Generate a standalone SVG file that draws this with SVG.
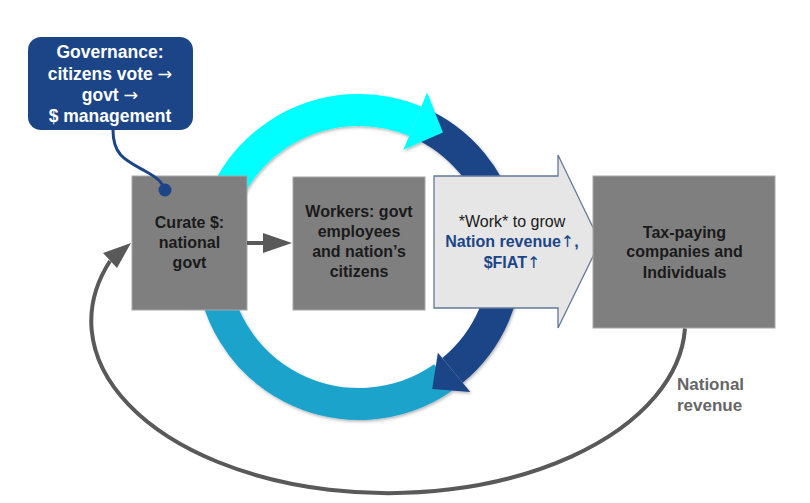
<svg xmlns="http://www.w3.org/2000/svg" width="810" height="503" viewBox="0 0 810 503">
<defs>
<style>
.box{fill:#7f7f7f;stroke:#a8a8a8;stroke-width:1}
.bt{font-family:"Liberation Sans",Arial,sans-serif;font-weight:bold;font-size:16px;fill:#1a1a1a;text-anchor:middle}
.gt{font-family:"Liberation Sans",Arial,sans-serif;font-weight:bold;font-size:17.5px;fill:#ffffff;text-anchor:middle}
.ar{font-family:"DejaVu Sans",sans-serif;font-weight:normal}
.ring{fill:none;stroke-width:32}
.conn{fill:none;stroke:#595959;stroke-width:4}
</style>
<filter id="sh" x="-10%" y="-10%" width="120%" height="120%">
<feDropShadow dx="1" dy="1.5" stdDeviation="1.5" flood-color="#000" flood-opacity="0.3"/>
</filter>
</defs>
<rect width="810" height="503" fill="#ffffff"/>

<g id="cycle" filter="url(#sh)">
<path class="ring" stroke="#1ca3cc" d="M443.3,377.4 A147,147 0 0 1 212,257"/>
<path class="ring" stroke="#1c4587" d="M416.4,121.7 A147,147 0 0 1 452.5,370.4"/>
<polygon fill="#1c4587" points="437.9,352.7 470.3,392 432.2,389.1"/>
<path class="ring" stroke="#00ffff" d="M212,257 A147,147 0 0 1 415.3,121.2"/>
<polygon fill="#00ffff" points="403.4,149.8 427.1,92.5 442.9,132.6"/>
</g>

<g id="governance">
<rect x="28" y="37" width="165" height="93" rx="13" fill="#1c4587"/>
<text class="gt" x="110" y="58">Governance:</text>
<text class="gt" x="110" y="80">citizens vote <tspan class="ar">→</tspan></text>
<text class="gt" x="110" y="101">govt <tspan class="ar">→</tspan></text>
<text class="gt" x="110" y="122">$ management</text>
</g>

<g id="curate">
<rect class="box" x="132" y="176" width="115" height="134"/>
<text class="bt" x="189.5" y="228">Curate $:</text>
<text class="bt" x="189.5" y="248">national</text>
<text class="bt" x="189.5" y="268">govt</text>
</g>

<g id="workers">
<rect class="box" x="293" y="177" width="132" height="133"/>
<text class="bt" x="359" y="217">Workers: govt</text>
<text class="bt" x="359" y="237">employees</text>
<text class="bt" x="359" y="257">and nation’s</text>
<text class="bt" x="359" y="277">citizens</text>
</g>

<g id="work">
<polygon points="434,176 558,176 558,155 600,242 558,328 558,308 434,308" fill="#e6e6e6" stroke="#64789a" stroke-width="1.3"/>
<text x="512" y="227" font-family="'Liberation Sans',Arial,sans-serif" font-size="16" fill="#1a1a1a" text-anchor="middle">*Work* to grow</text>
<text x="512" y="247" font-family="'Liberation Sans',Arial,sans-serif" font-size="16" font-weight="bold" fill="#1c4587" text-anchor="middle">Nation revenue<tspan class="ar">↑</tspan>,</text>
<text x="512" y="268" font-family="'Liberation Sans',Arial,sans-serif" font-size="16" font-weight="bold" fill="#1c4587" text-anchor="middle">$FIAT<tspan class="ar">↑</tspan></text>
</g>

<g id="taxpayers">
<rect class="box" x="593" y="176" width="182" height="152"/>
<text class="bt" x="684.5" y="238">Tax-paying</text>
<text class="bt" x="684.5" y="257">companies and</text>
<text class="bt" x="684.5" y="278">Individuals</text>
</g>

<g id="connectors">
<path d="M113,130 C113,155 125,160 145,171 C158,178 163,183 165,190" fill="none" stroke="#1c4587" stroke-width="3"/>
<circle cx="165" cy="190" r="6.5" fill="#1c4587"/>
<line class="conn" x1="247" y1="243" x2="265" y2="243"/>
<polygon fill="#595959" points="263,233 292,243 263,253"/>
<path class="conn" d="M685,328.5 A297,172 0 1 1 110,261"/>
<polygon fill="#595959" points="131,243 103,253 117,268"/>
</g>

<g id="label">
<text x="677" y="390" font-family="'Liberation Sans',Arial,sans-serif" font-size="17" font-weight="bold" fill="#666666">National</text>
<text x="677" y="411" font-family="'Liberation Sans',Arial,sans-serif" font-size="17" font-weight="bold" fill="#666666">revenue</text>
</g>
</svg>
